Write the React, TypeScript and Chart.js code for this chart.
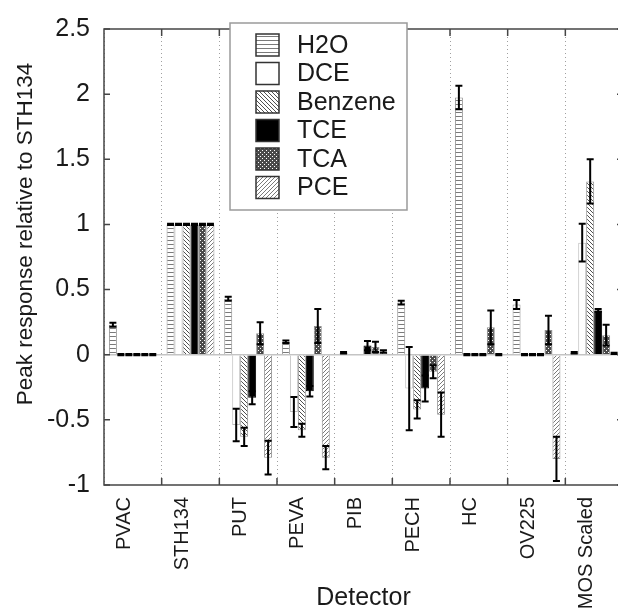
import React, { useEffect, useRef } from 'react';
import { Chart, registerables } from 'chart.js';

Chart.register(...registerables);

// ---------------- data ----------------
const categories = ['PVAC', 'STH134', 'PUT', 'PEVA', 'PIB', 'PECH', 'HC', 'OV225', 'MOS Scaled'];
const seriesNames = ['H2O', 'DCE', 'Benzene', 'TCE', 'TCA', 'PCE'];

const h2o = [0.23, 1, 0.43, 0.1, 0.015, 0.4, 1.975, 0.385, 0.015];
const h2oErr = [0.015, 0.005, 0.015, 0.01, 0.005, 0.015, 0.09, 0.035, 0.005];
const dce = [0, 1, -0.54, -0.44, 0, -0.26, 0, 0, 0.86];
const dceErr = [0.005, 0.005, 0.125, 0.115, 0, 0.32, 0.005, 0.005, 0.145];
const benzene = [0, 1, -0.63, -0.58, 0, -0.42, 0, 0, 1.33];
const benzeneErr = [0.005, 0.005, 0.07, 0.05, 0, 0.07, 0.005, 0.005, 0.17];
const tce = [0, 1, -0.33, -0.28, 0.07, -0.26, 0, 0, 0.34];
const tceErr = [0.005, 0.005, 0.05, 0.04, 0.035, 0.1, 0.005, 0.005, 0.01];
const tca = [0, 1, 0.165, 0.22, 0.06, -0.13, 0.21, 0.19, 0.15];
const tcaErr = [0.005, 0.005, 0.085, 0.13, 0.04, 0.05, 0.13, 0.11, 0.08];
const pce = [0, 1, -0.79, -0.79, 0.025, -0.46, 0, -0.8, 0.01];
const pceErr = [0.005, 0.005, 0.13, 0.09, 0.01, 0.17, 0.005, 0.17, 0.005];

const yTickValues = [-1, -0.5, 0, 0.5, 1, 1.5, 2, 2.5];
const yTickLabels = ['-1', '-0.5', '0', '0.5', '1', '1.5', '2', '2.5'];

const xTitle = 'Detector';
const yTitle = 'Peak response relative to STH134';

const FONT = "'Liberation Sans', Arial, Helvetica, sans-serif";
const TEXT = '#1a1a1a';

function makePattern(ctx: CanvasRenderingContext2D, kind: string): CanvasPattern | string {
  const c = document.createElement('canvas');
  const g = c.getContext('2d')!;
  c.width = 4;
  c.height = 4;
  if (kind === 'hlines') {
    g.fillStyle = '#fff';
    g.fillRect(0, 0, 4, 4);
    g.fillStyle = '#7a7a7a';
    g.fillRect(0, 0, 4, 1);
  } else if (kind === 'back') {
    g.fillStyle = '#fff';
    g.fillRect(0, 0, 4, 4);
    g.fillStyle = '#505050';
    for (let i = 0; i < 4; i++) g.fillRect(i, i, 1, 1);
  } else if (kind === 'fwd') {
    g.fillStyle = '#fff';
    g.fillRect(0, 0, 4, 4);
    g.fillStyle = '#7a7a7a';
    for (let i = 0; i < 4; i++) g.fillRect(3 - i, i, 1, 1);
  } else if (kind === 'dots') {
    g.fillStyle = '#4a4a4a';
    g.fillRect(0, 0, 4, 4);
    g.fillStyle = '#fff';
    g.fillRect(0, 0, 1, 1);
    g.fillRect(2, 2, 1, 1);
  } else {
    return kind;
  }
  return ctx.createPattern(c, 'repeat') || '#888';
}

const customPlugin = {
  id: 'customDraw',
  afterDatasetsDraw(chart: any) {
    const ctx: CanvasRenderingContext2D = chart.ctx;
    const yScale = chart.scales.y;
    ctx.save();
    ctx.strokeStyle = '#000';
    ctx.lineWidth = 2;
    chart.data.datasets.forEach((ds: any, d: number) => {
      const meta = chart.getDatasetMeta(d);
      meta.data.forEach((bar: any, i: number) => {
        const v = ds.data[i];
        const e = ds.errors ? ds.errors[i] : 0;
        if (!e) return;
        const x = bar.x;
        const y1 = yScale.getPixelForValue(v + e);
        const y2 = yScale.getPixelForValue(v - e);
        const cw = 3.5;
        ctx.beginPath();
        ctx.moveTo(x, y1);
        ctx.lineTo(x, y2);
        ctx.moveTo(x - cw, y1);
        ctx.lineTo(x + cw, y1);
        ctx.moveTo(x - cw, y2);
        ctx.lineTo(x + cw, y2);
        ctx.stroke();
      });
    });
    ctx.restore();
  },
  afterDraw(chart: any) {
    const ctx: CanvasRenderingContext2D = chart.ctx;
    const { left, right, top, bottom } = chart.chartArea;
    const xs = chart.scales.x;
    const ys = chart.scales.y;
    ctx.save();
    // frame
    ctx.strokeStyle = '#454545';
    ctx.lineWidth = 1.5;
    ctx.strokeRect(left, top, right - left, bottom - top);
    // y ticks (inward, both sides)
    ctx.beginPath();
    ys.ticks.forEach((t: any) => {
      const py = ys.getPixelForValue(t.value);
      ctx.moveTo(left, py);
      ctx.lineTo(left + 6, py);
      ctx.moveTo(right, py);
      ctx.lineTo(right - 6, py);
    });
    // x ticks at category boundaries (inward, bottom and top)
    const half = (xs.getPixelForValue(1) - xs.getPixelForValue(0)) / 2;
    for (let i = 1; i < categories.length; i++) {
      const px = xs.getPixelForValue(i) - half;
      ctx.moveTo(px, bottom);
      ctx.lineTo(px, bottom - 7);
      ctx.moveTo(px, top);
      ctx.lineTo(px, top + 7);
    }
    ctx.stroke();

    // legend
    const lx = 230, ly = 23, lw = 177, lh = 187;
    ctx.fillStyle = '#fff';
    ctx.fillRect(lx, ly, lw, lh);
    ctx.strokeStyle = '#9a9a9a';
    ctx.lineWidth = 1.5;
    ctx.strokeRect(lx, ly, lw, lh);
    ctx.font = `25px ${FONT}`;
    ctx.textBaseline = 'middle';
    ctx.textAlign = 'left';
    chart.data.datasets.forEach((ds: any, d: number) => {
      const cy = 45 + d * 28.5;
      ctx.fillStyle = ds.backgroundColor;
      ctx.fillRect(256, cy - 11, 23, 22);
      ctx.strokeStyle = '#333';
      ctx.lineWidth = 1.5;
      ctx.strokeRect(256, cy - 11, 23, 22);
      ctx.fillStyle = TEXT;
      ctx.fillText(ds.label, 297, cy + 1);
    });

    // y axis title
    ctx.save();
    ctx.translate(26, 234);
    ctx.rotate(-Math.PI / 2);
    ctx.font = `22.5px ${FONT}`;
    ctx.textAlign = 'center';
    ctx.textBaseline = 'middle';
    ctx.fillStyle = TEXT;
    ctx.fillText(yTitle, 0, 0);
    ctx.restore();

    ctx.restore();
  },
};

export default function App() {
  const ref = useRef<HTMLCanvasElement>(null);
  useEffect(() => {
    document.body.style.margin = '0';
    const canvas = ref.current!;
    const ctx = canvas.getContext('2d')!;
    const styles = [
      { bg: makePattern(ctx, 'hlines'), border: '#909090' },
      { bg: '#ffffff', border: '#bdbdbd' },
      { bg: makePattern(ctx, 'back'), border: '#909090' },
      { bg: '#000000', border: '#000000' },
      { bg: makePattern(ctx, 'dots'), border: '#909090' },
      { bg: makePattern(ctx, 'fwd'), border: '#909090' },
    ];
    const values = [h2o, dce, benzene, tce, tca, pce];
    const errors = [h2oErr, dceErr, benzeneErr, tceErr, tcaErr, pceErr];
    const datasets = seriesNames.map((name, k) => ({
      label: name,
      data: values[k],
      errors: errors[k],
      backgroundColor: styles[k].bg,
      borderColor: styles[k].border,
      borderWidth: 1,
    }));

    const chart = new Chart(canvas, {
      type: 'bar',
      data: { labels: categories, datasets: datasets as any },
      options: {
        animation: false,
        responsive: false,
        devicePixelRatio: 1,
        layout: { padding: { left: 0, top: 24, right: 17, bottom: 0 } },
        datasets: { bar: { categoryPercentage: 0.83, barPercentage: 1 } } as any,
        plugins: {
          legend: { display: false },
          tooltip: { enabled: false },
        },
        scales: {
          x: {
            offset: true,
            grid: { offset: true, color: '#a0a0a0', lineWidth: 1, drawTicks: false },
            border: { display: false, dash: [1, 3] },
            ticks: {
              autoSkip: false,
              minRotation: 90,
              maxRotation: 90,
              padding: 12,
              labelOffset: -8,
              color: TEXT,
              font: { family: FONT, size: 20 },
            },
            title: {
              display: true,
              text: xTitle,
              color: TEXT,
              font: { family: FONT, size: 25 },
              padding: { top: 0, bottom: -4 },
            },
            afterFit: (s: any) => {
              s.height = 124;
            },
          },
          y: {
            min: yTickValues[0],
            max: yTickValues[yTickValues.length - 1],
            afterBuildTicks: (s: any) => {
              s.ticks = yTickValues.map((v) => ({ value: v }));
            },
            ticks: {
              padding: 14,
              color: TEXT,
              font: { family: FONT, size: 25 },
              callback: (value: any) => {
                const idx = yTickValues.indexOf(Number(value));
                return idx >= 0 ? yTickLabels[idx] : '';
              },
            },
            grid: {
              drawTicks: false,
              lineWidth: 1.5,
              color: (c: any) => (c.tick && c.tick.value === 0 ? '#c4c4c4' : 'rgba(0,0,0,0)'),
            },
            border: { display: false },
            afterFit: (s: any) => {
              s.width = 104;
            },
          },
        },
      },
      plugins: [customPlugin],
    });
    return () => chart.destroy();
  }, []);

  return (
    <div style={{ width: 618, height: 609, overflow: 'hidden', position: 'relative' }}>
      <canvas ref={ref} width={640} height={609} style={{ display: 'block' }} />
    </div>
  );
}
